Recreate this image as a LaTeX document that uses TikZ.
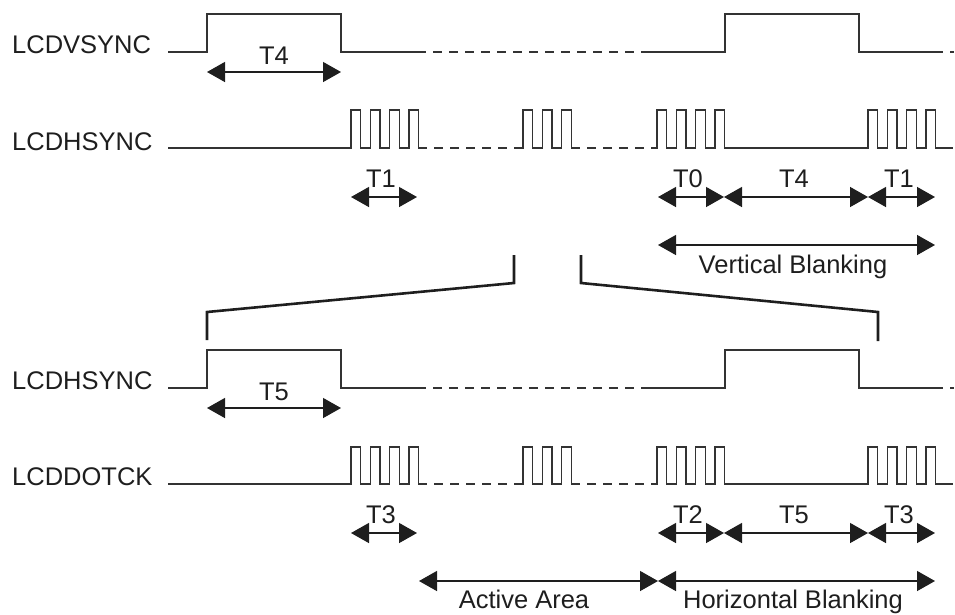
\documentclass[tikz,border=0pt]{standalone}
\usepackage{fontspec}
\setmainfont{Liberation Sans}
\usetikzlibrary{arrows.meta}

\definecolor{ink}{HTML}{1E1E1E}
\definecolor{trace}{HTML}{333333}

\tikzset{
  wave/.style={draw=trace, line width=1.4pt, line join=miter},
  gapline/.style={draw=trace, line width=1.4pt, dash pattern=on 9pt off 7pt, dash phase=9pt},
  span/.style={draw=ink, line width=1.4pt, {Triangle[length=18pt,width=20pt]}-{Triangle[length=18pt,width=20pt]}},
  zoombracket/.style={draw=ink, line width=2.6pt, line join=miter},
  siglabel/.style={anchor=base west, inner sep=0pt, text=ink, font=\fontsize{25.5}{30}\selectfont},
  timelabel/.style={anchor=base, inner sep=0pt, text=ink, font=\fontsize{25.5}{30}\selectfont}
}

\begin{document}
\begin{tikzpicture}[x=1pt, y=-1pt]
\useasboundingbox (0,0) rectangle (955,614);

% ---------------- frame timing ----------------
\node[siglabel] (lv) at (12,53) {LCDVSYNC};
\node[siglabel] (lh) at (12,150) {LCDHSYNC};

% LCDVSYNC
\draw[wave] (168,52) -- (207,52) -- (207,14) -- (341,14) -- (341,52) -- (426,52);
\draw[gapline] (426,52) -- (649,52);
\draw[wave] (649,52) -- (725,52) -- (725,14) -- (859,14) -- (859,52) -- (943,52);
\draw[wave] (950,52) -- (954,52);

% LCDHSYNC
\draw[wave] (168,148)
  foreach \k in {0,1,2,3} { -- ({351+19.3*\k},148) -- ++(0,-38) -- ++(9.7,0) -- ++(0,38) }
  -- (427,148);
\draw[gapline] (427,148) -- (517,148);
\draw[wave] (517,148)
  foreach \k in {0,1,2} { -- ({523+19.3*\k},148) -- ++(0,-38) -- ++(9.7,0) -- ++(0,38) }
  -- (580,148);
\draw[gapline] (580,148) -- (652,148);
\draw[wave] (652,148)
  foreach \k in {0,1,2,3} { -- ({657+19.3*\k},148) -- ++(0,-38) -- ++(9.7,0) -- ++(0,38) }
  foreach \k in {0,1,2,3} { -- ({868+19.3*\k},148) -- ++(0,-38) -- ++(9.7,0) -- ++(0,38) }
  -- (953,148);

% frame intervals
\coordinate (v1) at (207,72); \coordinate (v2) at (341,72);
\draw[span] (v1) -- (v2);
\node[timelabel] (t4a) at (274,64) {T4};

\coordinate (h1) at (351,197); \coordinate (h2) at (417,197);
\draw[span] (h1) -- (h2);
\node[timelabel] (t1a) at (381,187) {T1};

\coordinate (b0) at (658,197); \coordinate (b1) at (724,197);
\coordinate (b2) at (868,197); \coordinate (b3) at (935,197);
\draw[span] (b0) -- (b1);
\draw[span] (b1) -- (b2);
\draw[span] (b2) -- (b3);
\node[timelabel] (t0) at (688,187) {T0};
\node[timelabel] (t4b) at (794,187) {T4};
\node[timelabel] (t1b) at (899,187) {T1};

\coordinate (vb0) at (658,245); \coordinate (vb1) at (935,245);
\draw[span] (vb0) -- (vb1);
\node[timelabel] (vbl) at (793,273) {Vertical Blanking};

% ---------------- expansion of one line ----------------
\draw[zoombracket] (207,340) -- (207,312) -- (514,283) -- (514,255);
\draw[zoombracket] (581,255) -- (581,283) -- (878,312) -- (878,341);

% ---------------- line timing ----------------
\node[siglabel] (lh2) at (12,389) {LCDHSYNC};
\node[siglabel] (ld) at (12,485) {LCDDOTCK};

% LCDHSYNC
\draw[wave] (168,388) -- (207,388) -- (207,350) -- (341,350) -- (341,388) -- (426,388);
\draw[gapline] (426,388) -- (649,388);
\draw[wave] (649,388) -- (725,388) -- (725,350) -- (859,350) -- (859,388) -- (943,388);
\draw[wave] (950,388) -- (954,388);

% LCDDOTCK
\draw[wave] (168,484)
  foreach \k in {0,1,2,3} { -- ({351+19.3*\k},484) -- ++(0,-37) -- ++(9.7,0) -- ++(0,37) }
  -- (427,484);
\draw[gapline] (427,484) -- (517,484);
\draw[wave] (517,484)
  foreach \k in {0,1,2} { -- ({523+19.3*\k},484) -- ++(0,-37) -- ++(9.7,0) -- ++(0,37) }
  -- (580,484);
\draw[gapline] (580,484) -- (652,484);
\draw[wave] (652,484)
  foreach \k in {0,1,2,3} { -- ({657+19.3*\k},484) -- ++(0,-37) -- ++(9.7,0) -- ++(0,37) }
  foreach \k in {0,1,2,3} { -- ({868+19.3*\k},484) -- ++(0,-37) -- ++(9.7,0) -- ++(0,37) }
  -- (953,484);

% line intervals
\coordinate (w1) at (207,408); \coordinate (w2) at (341,408);
\draw[span] (w1) -- (w2);
\node[timelabel] (t5a) at (274,400) {T5};

\coordinate (d1) at (351,533); \coordinate (d2) at (417,533);
\draw[span] (d1) -- (d2);
\node[timelabel] (t3a) at (381,523) {T3};

\coordinate (c0) at (658,533); \coordinate (c1) at (724,533);
\coordinate (c2) at (868,533); \coordinate (c3) at (935,533);
\draw[span] (c0) -- (c1);
\draw[span] (c1) -- (c2);
\draw[span] (c2) -- (c3);
\node[timelabel] (t2) at (688,523) {T2};
\node[timelabel] (t5b) at (794,523) {T5};
\node[timelabel] (t3b) at (899,523) {T3};

\coordinate (aa0) at (419,581); \coordinate (aa1) at (658,581);
\coordinate (hb1) at (935,581);
\draw[span] (aa0) -- (aa1);
\draw[span] (aa1) -- (hb1);
\node[timelabel] (aal) at (524,608) {Active Area};
\node[timelabel] (hbl) at (793,608) {Horizontal Blanking};
\end{tikzpicture}
\end{document}
